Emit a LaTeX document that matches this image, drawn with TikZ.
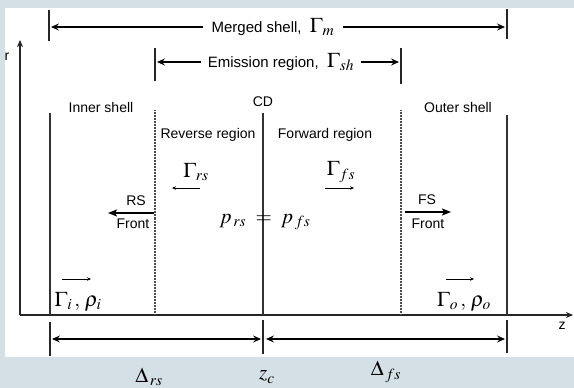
\documentclass[tikz,border=0pt]{standalone}
\usepackage{mathptmx}
\usepackage[no-math]{fontspec}
\setmainfont{Liberation Sans}
\usepackage{tikz}
\usetikzlibrary{arrows.meta}
\definecolor{panelbg}{RGB}{212,224,229}
\begin{document}
\begin{tikzpicture}[
  x=1pt, y=-1pt,
  font=\fontsize{14}{16}\selectfont,
  wall/.style={draw=black!80, line width=1.4pt},
  dotwall/.style={draw=black!70, line width=1.3pt, dash pattern=on 0.8pt off 0.7pt},
  tick/.style={draw=black!85, line width=1.3pt},
  axis/.style={-{Stealth[length=7pt,width=6pt,inset=2pt]}, line width=1.3pt, black!85},
  span/.style={-{Stealth[length=8pt,width=7pt,inset=3pt]}, line width=1.3pt},
  dim/.style={{Stealth[length=8pt,width=7pt,inset=3pt]}-{Stealth[length=8pt,width=7pt,inset=3pt]}, line width=1.2pt},
  flow/.style={-{Stealth[length=4pt,width=3.5pt]}, line width=0.8pt},
  front/.style={-{Stealth[length=9pt,width=7pt,inset=2pt]}, line width=1.8pt},
  lbl/.style={inner sep=1pt},
  mth/.style={inner sep=1pt, font=\fontsize{21}{23}\selectfont}
]
\useasboundingbox (0,0) rectangle (574,388);
\fill[panelbg] (0,0) rectangle (574,388);
\fill[white] (5,8) rectangle (574,357);

% axes
\coordinate (orig) at (20,315);
\coordinate (rtop) at (20,40);
\coordinate (zend) at (573,315);
\draw[axis] (orig) -- (rtop);
\draw[axis] (orig) -- (zend);
\node[lbl] (rlab) at (7,57) {r};
\node[lbl] (zlab) at (562,326) {z};

% shells and regions
\coordinate (inTop) at (50,113);  \coordinate (inBot) at (50,315);
\coordinate (rsTop) at (155,110); \coordinate (rsBot) at (155,315);
\coordinate (cdTop) at (263,113); \coordinate (cdBot) at (263,315);
\coordinate (fsTop) at (401,110); \coordinate (fsBot) at (401,315);
\coordinate (outTop) at (507,115); \coordinate (outBot) at (507,315);
\draw[wall] (inTop) -- (inBot);
\draw[dotwall] (rsTop) -- (rsBot);
\draw[wall] (cdTop) -- (cdBot);
\draw[dotwall] (fsTop) -- (fsBot);
\draw[wall] (outTop) -- (outBot);

\node[lbl] (inner) at (101,107) {Inner shell};
\node[lbl] (cd) at (263,102) {CD};
\node[lbl] (outer) at (458,107) {Outer shell};
\node[lbl] (reverse) at (208,135) {Reverse region};
\node[lbl] (forward) at (325,135) {Forward region};

% merged shell
\coordinate (mL1) at (49,10);  \coordinate (mL2) at (49,41);
\coordinate (mR1) at (507,9);  \coordinate (mR2) at (507,39);
\draw[tick] (mL1) -- (mL2);
\draw[tick] (mR1) -- (mR2);
\node[lbl, inner xsep=8pt, font=\fontsize{15}{17}\selectfont] (merged) at (273,27) {Merged shell,\ \ {\fontsize{21}{23}\selectfont$\Gamma_{m}$}};
\draw[span] (merged.west) -- (51,27);
\draw[span] (merged.east) -- (505,27);

% emission region
\coordinate (eL1) at (155,48); \coordinate (eL2) at (155,81);
\coordinate (eR1) at (401,48); \coordinate (eR2) at (401,84);
\draw[tick] (eL1) -- (eL2);
\draw[tick] (eR1) -- (eR2);
\node[lbl, inner xsep=7pt, font=\fontsize{15}{17}\selectfont] (emission) at (281,62) {Emission region,\ \ {\fontsize{21}{23}\selectfont$\Gamma_{sh}$}};
\draw[span] (emission.west) -- (157,62);
\draw[span] (emission.east) -- (399,62);

% flows
\node[mth] (grs) at (196,172) {$\Gamma_{rs}$};
\draw[flow] (200,188) -- (172,188);
\node[mth] (gfs) at (341,172) {$\Gamma_{fs}$};
\draw[flow] (325,188) -- (354,188);

\node[lbl] (rs) at (136,201) {RS};
\node[lbl] (rsfront) at (133,224) {Front};
\draw[front] (154,213) -- (108,213);
\node[lbl] (fs) at (427,200) {FS};
\node[lbl] (fsfront) at (428,224) {Front};
\draw[front] (405,212) -- (451,212);

\node[mth] (press) at (265,222) {$p_{\,rs}\;=\;p_{\,fs}$};

\node[mth] (gin) at (78,302) {$\Gamma_{i}\,,\,\rho_{i}$};
\draw[flow] (62,279) -- (91,279);
\node[mth] (gout) at (464,302) {$\Gamma_{o}\,,\,\rho_{o}$};
\draw[flow] (446,279) -- (474,279);

% widths
\coordinate (tA1) at (50,322);  \coordinate (tA2) at (50,356);
\coordinate (tB1) at (263,320); \coordinate (tB2) at (263,354);
\coordinate (tC1) at (507,320); \coordinate (tC2) at (507,353);
\draw[tick] (tA1) -- (tA2);
\draw[tick] (tB1) -- (tB2);
\draw[tick] (tC1) -- (tC2);
\draw[dim] (52,339) -- (261,339);
\draw[dim] (266,339) -- (505,339);
\node[mth] (drs) at (149,377) {$\Delta_{\,rs}$};
\node[mth] (zc) at (267,377) {$z_{c}$};
\node[mth] (dfs) at (386,372) {$\Delta_{\,fs}$};
\end{tikzpicture}
\end{document}
